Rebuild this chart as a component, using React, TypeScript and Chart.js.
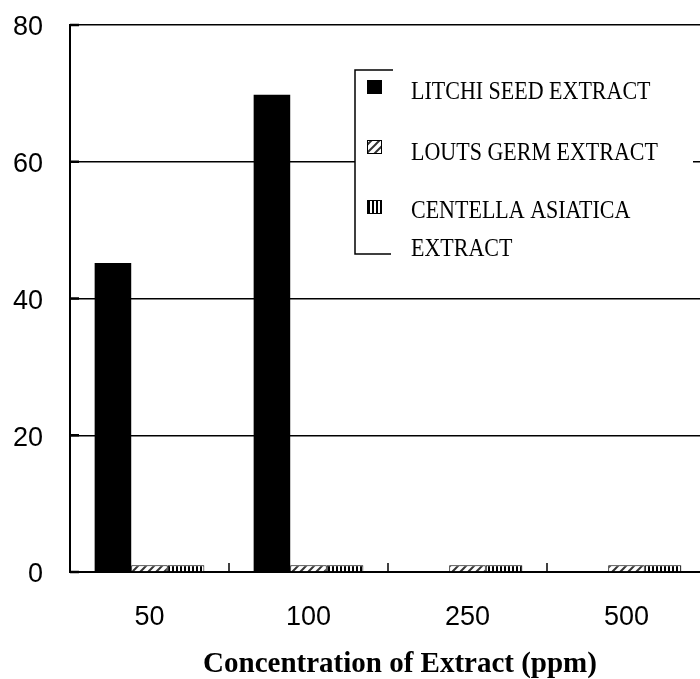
import React, { useEffect, useRef } from "react";
import { Chart, registerables } from "chart.js";

Chart.register(...registerables);

const categories = ["50", "100", "250", "500"];
const litchiValues = [45.2, 69.8, 0, 0];
const lotusValues = [1, 1, 1, 1];
const centellaValues = [1, 1, 1, 1];
const legendLines = [
  ["LITCHI SEED EXTRACT"],
  ["LOUTS GERM EXTRACT"],
  ["CENTELLA ASIATICA", "EXTRACT"],
];
const yMin = 0;
const yMax = 80;
const yStep = 20;
const xTitle = "Concentration of Extract (ppm)";

function makeDiagPattern(): CanvasPattern | string {
  const c = document.createElement("canvas");
  c.width = 8;
  c.height = 8;
  const g = c.getContext("2d");
  if (!g) return "#888";
  g.fillStyle = "#fff";
  g.fillRect(0, 0, 8, 8);
  g.strokeStyle = "#333";
  g.lineWidth = 2;
  g.beginPath();
  g.moveTo(0, 8);
  g.lineTo(8, 0);
  g.moveTo(-2, 2);
  g.lineTo(2, -2);
  g.moveTo(6, 10);
  g.lineTo(10, 6);
  g.stroke();
  return g.createPattern(c, "repeat") as CanvasPattern;
}

function makeVertPattern(): CanvasPattern | string {
  const c = document.createElement("canvas");
  c.width = 4;
  c.height = 4;
  const g = c.getContext("2d");
  if (!g) return "#888";
  g.fillStyle = "#fff";
  g.fillRect(0, 0, 4, 4);
  g.fillStyle = "#000";
  g.fillRect(0, 0, 2, 4);
  return g.createPattern(c, "repeat") as CanvasPattern;
}

export default function App() {
  const ref = useRef<HTMLCanvasElement | null>(null);

  useEffect(() => {
    const canvas = ref.current;
    if (!canvas) return;
    const diag = makeDiagPattern();
    const vert = makeVertPattern();
    const fills: any[] = ["#000", diag, vert];

    const decorPlugin = {
      id: "decor",
      afterDraw(chart: any) {
        const ctx = chart.ctx;
        const xs = chart.scales.x;
        const ys = chart.scales.y;
        const area = chart.chartArea;
        ctx.save();
        // inward category ticks on x axis
        ctx.strokeStyle = "#000";
        ctx.lineWidth = 1.5;
        for (let i = 0; i < categories.length - 1; i++) {
          const bx = (xs.getPixelForValue(i) + xs.getPixelForValue(i + 1)) / 2;
          ctx.beginPath();
          ctx.moveTo(bx, area.bottom);
          ctx.lineTo(bx, area.bottom - 9);
          ctx.stroke();
        }
        // inward ticks on y axis
        ctx.lineWidth = 2.5;
        for (let v = yMin; v <= yMax; v += yStep) {
          const py = ys.getPixelForValue(v);
          ctx.beginPath();
          ctx.moveTo(area.left, py);
          ctx.lineTo(area.left + 9, py);
          ctx.stroke();
        }
        // legend
        const lx = 355;
        const ly = 70;
        const lr = 693;
        const lb = 254;
        ctx.fillStyle = "#fff";
        ctx.fillRect(lx, ly, lr - lx, lb - ly);
        ctx.strokeStyle = "#000";
        ctx.lineWidth = 1.5;
        ctx.beginPath();
        ctx.moveTo(393, ly);
        ctx.lineTo(lx, ly);
        ctx.lineTo(lx, lb);
        ctx.lineTo(391, lb);
        ctx.stroke();
        const swatchTops = [80, 140, 200];
        const baselines = [[99], [160], [218, 256]];
        chart.data.datasets.forEach((ds: any, i: number) => {
          ctx.fillStyle = fills[i];
          ctx.fillRect(367, swatchTops[i], 15, 14);
          ctx.strokeStyle = "#000";
          ctx.lineWidth = 1;
          ctx.strokeRect(367.5, swatchTops[i] + 0.5, 14, 13);
          ctx.fillStyle = "#000";
          ctx.font = "25px 'Liberation Serif'";
          ctx.textAlign = "left";
          ctx.textBaseline = "alphabetic";
          legendLines[i].forEach((line, j) => {
            ctx.save();
            ctx.translate(411, baselines[i][j]);
            ctx.scale(0.88, 1);
            ctx.fillText(line, 0, 0);
            ctx.restore();
          });
        });
        // x title
        ctx.fillStyle = "#000";
        ctx.font = "bold 29px 'Liberation Serif'";
        ctx.textAlign = "center";
        ctx.textBaseline = "alphabetic";
        ctx.fillText(xTitle, 400, 672);
        ctx.restore();
      },
    };

    const chart = new Chart(canvas, {
      type: "bar",
      data: {
        labels: categories,
        datasets: [
          {
            label: legendLines[0].join(" "),
            data: litchiValues,
            backgroundColor: "#000",
            borderWidth: 0,
          },
          {
            label: legendLines[1].join(" "),
            data: lotusValues,
            backgroundColor: diag as any,
            borderColor: "#000",
            borderWidth: 1,
          },
          {
            label: legendLines[2].join(" "),
            data: centellaValues,
            backgroundColor: vert as any,
            borderColor: "#000",
            borderWidth: 1,
          },
        ],
      },
      options: {
        responsive: false,
        animation: false,
        devicePixelRatio: 1,
        layout: { padding: { top: 25, right: 14, left: 0, bottom: 0 } },
        datasets: {
          bar: { categoryPercentage: 0.69, barPercentage: 1 },
        },
        plugins: {
          legend: { display: false },
          tooltip: { enabled: false },
          title: { display: false },
        },
        scales: {
          x: {
            type: "category",
            grid: { display: false, drawTicks: false },
            border: { display: true, color: "#000", width: 2 },
            ticks: {
              color: "#000",
              font: { family: "'Liberation Sans'", size: 27 },
              padding: 29,
              maxRotation: 0,
            },
            afterFit(scale: any) {
              scale.height = 107;
              scale.paddingLeft = 0;
              scale.paddingRight = 0;
            },
          },
          y: {
            min: yMin,
            max: yMax,
            grid: { color: "#000", lineWidth: 1.5, drawTicks: false },
            border: { display: true, color: "#000", width: 2 },
            ticks: {
              stepSize: yStep,
              color: "#000",
              font: { family: "'Liberation Sans'", size: 27 },
              padding: 27,
              labelOffset: 3,
            },
            afterFit(scale: any) {
              scale.width = 70;
              scale.paddingTop = 0;
              scale.paddingBottom = 0;
            },
          },
        },
      },
      plugins: [decorPlugin],
    });
    return () => chart.destroy();
  }, []);

  return (
    <div
      style={{
        position: "fixed",
        left: 0,
        top: 0,
        width: 700,
        height: 679,
        overflow: "hidden",
        background: "#fff",
      }}
    >
      <canvas ref={ref} width={720} height={679} style={{ display: "block" }} />
    </div>
  );
}
